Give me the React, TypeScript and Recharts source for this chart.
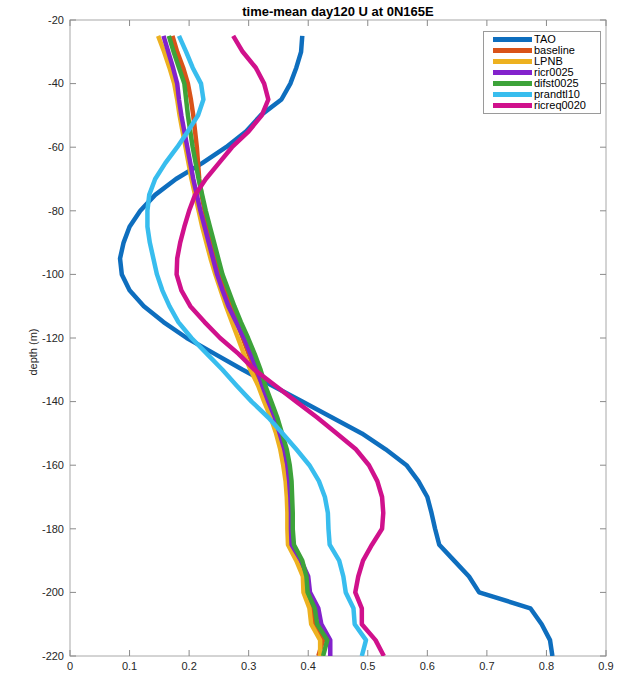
import React from 'react';
import { LineChart, Line, XAxis, YAxis, Legend, Label, ReferenceArea } from 'recharts';

// ---------------------------------------------------------------------------
// data
// ---------------------------------------------------------------------------

const depths = [
  -25, -30, -35, -40, -45, -50, -55, -60, -65, -70,
  -75, -80, -85, -90, -95, -100, -105, -110, -115, -120,
  -125, -130, -135, -140, -145, -150, -155, -160, -165, -170,
  -175, -180, -185, -190, -195, -200, -205, -210, -215, -220,
];

const tao = [
  0.39, 0.388, 0.38, 0.37, 0.355, 0.32, 0.296, 0.262, 0.222, 0.178,
  0.143, 0.118, 0.1, 0.09, 0.084, 0.087, 0.1, 0.124, 0.157, 0.196,
  0.243, 0.29, 0.34, 0.39, 0.44, 0.49, 0.53, 0.565, 0.585, 0.6,
  0.607, 0.613, 0.62, 0.645, 0.67, 0.687, 0.773, 0.792, 0.806, 0.81,
];

const baseline = [
  0.172, 0.18, 0.19, 0.198, 0.203, 0.207, 0.21, 0.213, 0.215, 0.217,
  0.221, 0.226, 0.232, 0.238, 0.245, 0.252, 0.261, 0.27, 0.28, 0.29,
  0.3, 0.31, 0.32, 0.33, 0.34, 0.349, 0.356, 0.361, 0.365, 0.367,
  0.368, 0.368, 0.369, 0.383, 0.394, 0.396, 0.407, 0.41, 0.425, 0.417,
];

const lpnb = [
  0.148, 0.158, 0.167, 0.175, 0.18, 0.184, 0.189, 0.194, 0.199, 0.204,
  0.21, 0.216, 0.222, 0.229, 0.236, 0.244, 0.253, 0.262, 0.272, 0.282,
  0.292, 0.303, 0.316, 0.326, 0.337, 0.346, 0.353, 0.358, 0.362, 0.364,
  0.365, 0.365, 0.366, 0.38, 0.391, 0.392, 0.402, 0.405, 0.42, 0.42,
];

const ricr0025 = [
  0.157, 0.165, 0.173, 0.18, 0.183, 0.187, 0.192, 0.197, 0.202, 0.207,
  0.213, 0.219, 0.226, 0.233, 0.24, 0.247, 0.256, 0.266, 0.279, 0.292,
  0.303, 0.314, 0.323, 0.333, 0.344, 0.352, 0.36, 0.365, 0.368, 0.37,
  0.371, 0.371, 0.372, 0.388, 0.4, 0.403, 0.417, 0.422, 0.437, 0.437,
];

const difst0025 = [
  0.166, 0.174, 0.183, 0.192, 0.195, 0.198, 0.202, 0.206, 0.211, 0.216,
  0.222, 0.228, 0.235, 0.242, 0.249, 0.256, 0.266, 0.276, 0.287, 0.299,
  0.31, 0.32, 0.328, 0.338, 0.348, 0.356, 0.364, 0.369, 0.372, 0.373,
  0.374, 0.374, 0.376, 0.39, 0.397, 0.399, 0.411, 0.415, 0.432, 0.425,
];

const prandtl10 = [
  0.183, 0.195, 0.206, 0.22, 0.224, 0.215, 0.198, 0.18, 0.16, 0.143,
  0.133, 0.13, 0.13, 0.134, 0.14, 0.146, 0.155, 0.167, 0.182, 0.204,
  0.23, 0.256, 0.28, 0.305, 0.333, 0.357, 0.38, 0.402, 0.418, 0.428,
  0.433, 0.434, 0.436, 0.452, 0.459, 0.463, 0.476, 0.478, 0.497, 0.49,
];

const ricreq0020 = [
  0.274, 0.29, 0.312, 0.326, 0.333, 0.322, 0.3, 0.272, 0.25, 0.228,
  0.21, 0.2, 0.192, 0.185, 0.18, 0.179, 0.187, 0.202, 0.226, 0.252,
  0.283, 0.31, 0.345, 0.38, 0.415, 0.448, 0.48, 0.502, 0.516, 0.524,
  0.526, 0.524, 0.507, 0.492, 0.484, 0.479, 0.49, 0.49, 0.513, 0.527,
];

const xTicks = [0, 0.1, 0.2, 0.3, 0.4, 0.5, 0.6, 0.7, 0.8, 0.9];
const yTicks = [-220, -200, -180, -160, -140, -120, -100, -80, -60, -40, -20];

const titleText = 'time-mean day120 U at 0N165E';
const yLabelText = 'depth (m)';

// series in plotting order (later ones drawn on top)
const series = [
  { name: 'TAO', values: tao, color: '#0E6EBE' },
  { name: 'baseline', values: baseline, color: '#D95319' },
  { name: 'LPNB', values: lpnb, color: '#EDB120' },
  { name: 'ricr0025', values: ricr0025, color: '#8322CC' },
  { name: 'difst0025', values: difst0025, color: '#3DA33A' },
  { name: 'prandtl10', values: prandtl10, color: '#38BDEE' },
  { name: 'ricreq0020', values: ricreq0020, color: '#D0118C' },
];

const tableData = depths.map((depth, i) => {
  const row: Record<string, number> = { depth };
  series.forEach((s) => {
    row[s.name] = s.values[i];
  });
  return row;
});

// ---------------------------------------------------------------------------
// helpers
// ---------------------------------------------------------------------------

const FONT = '"Liberation Sans", Arial, Helvetica, sans-serif';
const AXIS_GRAY = '#a8a8a8';
const TICK_GRAY = '#8a8a8a';
const TEXT_DARK = '#262626';
const TICK_LEN = 6;

const X_MIN = xTicks[0];
const X_MAX = xTicks[xTicks.length - 1];
const Y_MIN = yTicks[0];
const Y_MAX = yTicks[yTicks.length - 1];

const BottomLabel = ({ x, y, payload }: any) => (
  <text x={x} y={y + 6} dy="0.71em" textAnchor="middle" fill={TEXT_DARK} fontSize={11} fontFamily={FONT}>
    {payload.value}
  </text>
);

const LeftLabel = ({ x, y, payload }: any) => (
  <text x={x - 6} y={y} dy="0.35em" textAnchor="end" fill={TEXT_DARK} fontSize={11} fontFamily={FONT}>
    {payload.value}
  </text>
);

// matlab style box: frame on all four sides, tick marks pointing inwards.
// the rect handed in by ReferenceArea spans the whole axis domain.
const FrameShape = ({ x, y, width, height }: any) => {
  const xPx = (t: number) => x + ((t - X_MIN) / (X_MAX - X_MIN)) * width;
  const yPx = (t: number) => y + ((Y_MAX - t) / (Y_MAX - Y_MIN)) * height;
  return (
    <g>
      <rect x={x} y={y} width={width} height={height} fill="none" stroke={AXIS_GRAY} />
      {xTicks.map((t) => (
        <g key={`x${t}`} stroke={TICK_GRAY}>
          <line x1={xPx(t)} y1={y} x2={xPx(t)} y2={y + TICK_LEN} />
          <line x1={xPx(t)} y1={y + height} x2={xPx(t)} y2={y + height - TICK_LEN} />
        </g>
      ))}
      {yTicks.map((t) => (
        <g key={`y${t}`} stroke={TICK_GRAY}>
          <line x1={x} y1={yPx(t)} x2={x + TICK_LEN} y2={yPx(t)} />
          <line x1={x + width} y1={yPx(t)} x2={x + width - TICK_LEN} y2={yPx(t)} />
        </g>
      ))}
    </g>
  );
};

const BoxLegend = () => (
  <div
    style={{
      border: '1px solid #9a9a9a',
      background: '#fff',
      padding: '2px 0 2px 0',
      fontFamily: FONT,
      fontSize: 11,
      color: '#000',
    }}
  >
    {series.map((s) => (
      <div key={s.name} style={{ display: 'flex', alignItems: 'center', height: 11 }}>
        <div style={{ width: 39, height: 4.5, background: s.color, marginLeft: 9, marginRight: 2 }} />
        <span style={{ lineHeight: '11px' }}>{s.name}</span>
      </div>
    ))}
  </div>
);

// ---------------------------------------------------------------------------
// main
// ---------------------------------------------------------------------------

export default function App() {
  return (
    <div style={{ position: 'absolute', left: 0, top: 0, width: 636, height: 678, background: '#fff' }}>
      <div
        style={{
          position: 'absolute',
          left: 70,
          width: 536,
          top: 5,
          textAlign: 'center',
          fontFamily: FONT,
          fontWeight: 'bold',
          fontSize: 13,
          lineHeight: '14px',
          color: '#000',
        }}
      >
        {titleText}
      </div>
      <LineChart
        width={636}
        height={678}
        layout="vertical"
        data={tableData}
        margin={{ top: 20, right: 30, bottom: 2, left: 0 }}
      >
        <XAxis
          type="number"
          domain={[X_MIN, X_MAX]}
          ticks={xTicks}
          interval={0}
          height={20}
          tickSize={0}
          tickMargin={0}
          tickLine={false}
          axisLine={false}
          tick={<BottomLabel />}
          allowDataOverflow
        />
        <YAxis
          type="number"
          dataKey="depth"
          domain={[Y_MIN, Y_MAX]}
          ticks={yTicks}
          interval={0}
          reversed
          width={70}
          tickSize={0}
          tickMargin={0}
          tickLine={false}
          axisLine={false}
          tick={<LeftLabel />}
          allowDataOverflow
        >
          <Label
            content={({ viewBox }: any) => {
              const cy = viewBox ? viewBox.y + viewBox.height / 2 + 14 : 352;
              return (
                <text
                  x={33}
                  y={cy}
                  transform={`rotate(-90, 33, ${cy})`}
                  textAnchor="middle"
                  dominantBaseline="central"
                  fill={TEXT_DARK}
                  fontSize={11}
                  fontFamily={FONT}
                >
                  {yLabelText}
                </text>
              );
            }}
          />
        </YAxis>
        {series.map((s) => (
          <Line
            key={s.name}
            dataKey={s.name}
            name={s.name}
            type="linear"
            stroke={s.color}
            strokeWidth={4.5}
            strokeLinejoin="round"
            dot={false}
            activeDot={false}
            isAnimationActive={false}
          />
        ))}
        <ReferenceArea
          x1={X_MIN}
          x2={X_MAX}
          y1={Y_MIN}
          y2={Y_MAX}
          ifOverflow="visible"
          shape={(props: any) => <FrameShape {...props} />}
        />
        <Legend
          layout="vertical"
          align="center"
          verticalAlign="middle"
          content={() => <BoxLegend />}
          wrapperStyle={{ left: 483, top: 31, width: 118 }}
        />
      </LineChart>
    </div>
  );
}
